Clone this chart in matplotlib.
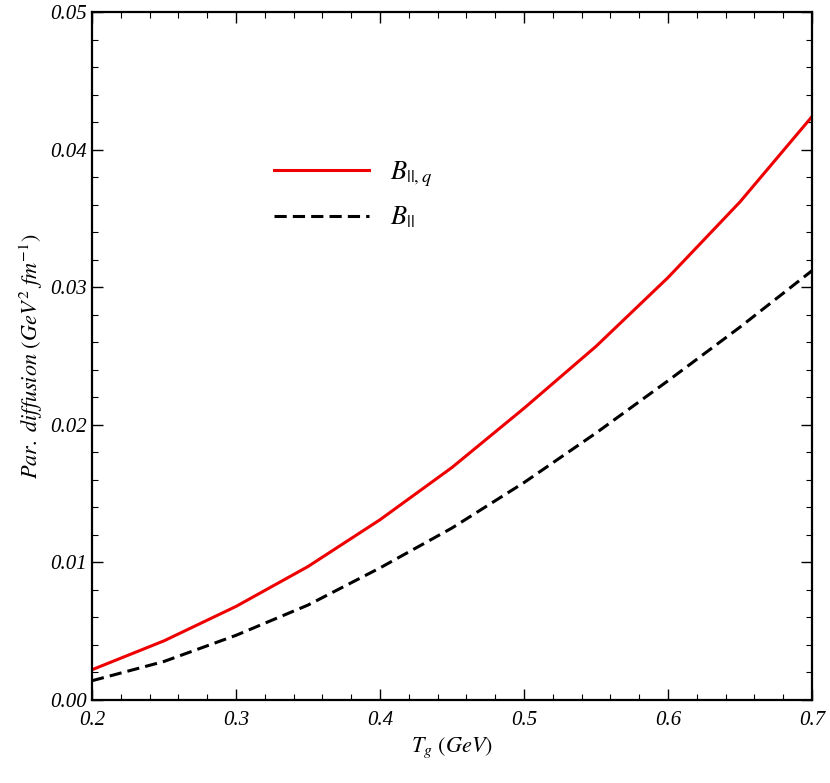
import matplotlib
matplotlib.use("Agg")
import matplotlib.pyplot as plt
from matplotlib.ticker import MultipleLocator

plt.rcParams['font.family'] = ['Liberation Serif', 'DejaVu Serif']
plt.rcParams['mathtext.fontset'] = 'stix'

T = [0.20, 0.25, 0.30, 0.35, 0.40, 0.45, 0.50, 0.55, 0.60, 0.65, 0.70]
B_par_q = [0.0022, 0.0043, 0.0068, 0.0097, 0.0131, 0.0169, 0.0212, 0.0257, 0.0307, 0.0362, 0.0424]
B_par = [0.0014, 0.0028, 0.0047, 0.0069, 0.0096, 0.0125, 0.0158, 0.0194, 0.0232, 0.0271, 0.0312]

fig = plt.figure(figsize=(8.30, 7.83), dpi=100)
ax = fig.add_axes([92/830, 83/783, 720/830, 688/783])
ax.plot(T, B_par_q, color='#ee0000', lw=2.2, label=r'$B_{||,q}$')
ax.plot(T, B_par, color='black', lw=2.2, ls=(0, (4, 2)), label=r'$B_{||}$')
ax.set_xlim(0.2, 0.7)
ax.set_ylim(0, 0.05)
ax.xaxis.set_major_locator(MultipleLocator(0.1))
ax.xaxis.set_minor_locator(MultipleLocator(0.02))
ax.yaxis.set_major_locator(MultipleLocator(0.01))
ax.yaxis.set_minor_locator(MultipleLocator(0.002))
ax.tick_params(which='both', direction='in', top=True, right=True, labelsize=15)
ax.tick_params(which='major', length=8, width=1)
ax.tick_params(which='minor', length=4, width=0.8)
ax.tick_params(axis='x', pad=8)
ax.set_xticklabels([f'{v:.1f}' for v in ax.get_xticks()], style='italic')
ax.set_yticklabels([f'{v:.2f}' for v in ax.get_yticks()], style='italic')
for s in ax.spines.values():
    s.set_linewidth(1.6)
ax.set_xlabel(r'$T_g$ $(GeV)$', fontsize=16)
ax.set_ylabel(r'$Par.\ diffusion\ (GeV^2\ fm^{-1})$', fontsize=16)
ax.legend(loc='upper left', bbox_to_anchor=(0.22, 0.82), frameon=False,
          fontsize=19, handlelength=3.6, labelspacing=0.6)
fig.savefig('out.png', dpi=100)
